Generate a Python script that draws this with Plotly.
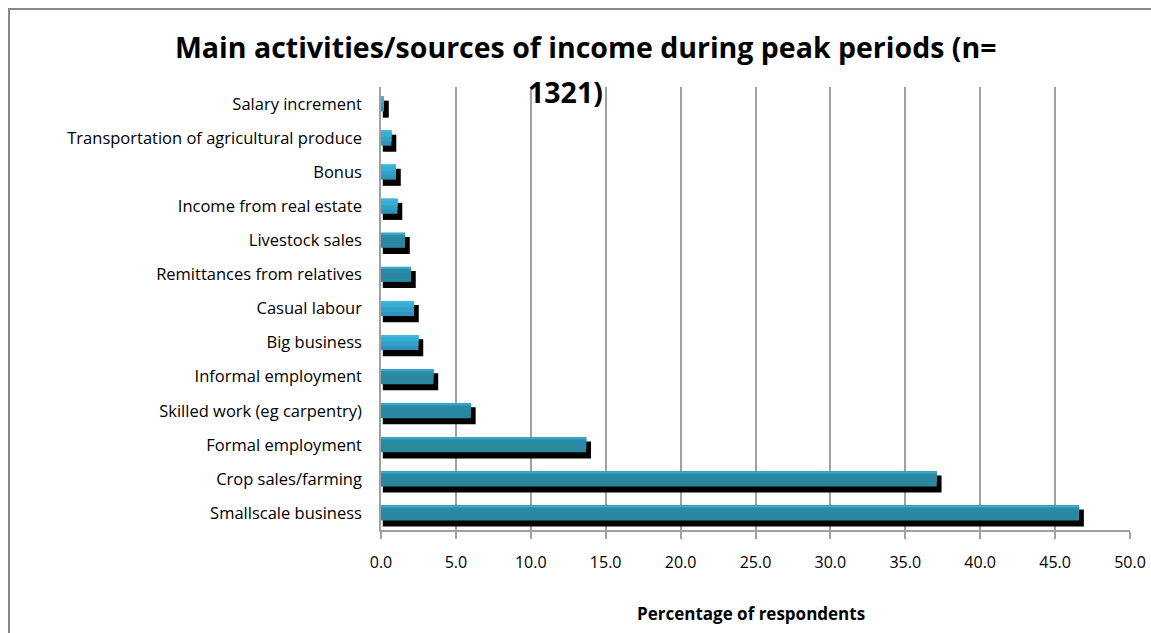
import plotly.graph_objects as go

# ---- data (top-to-bottom as shown) ----
categories = [
    "Salary increment",
    "Transportation of agricultural produce",
    "Bonus",
    "Income from real estate",
    "Livestock sales",
    "Remittances from relatives",
    "Casual labour",
    "Big business",
    "Informal employment",
    "Skilled work (eg carpentry)",
    "Formal employment",
    "Crop sales/farming",
    "Smallscale business",
]
values = [0.2, 0.7, 1.0, 1.1, 1.6, 2.0, 2.2, 2.5, 3.5, 6.0, 13.7, 37.1, 46.6]
x_ticks = [0, 5, 10, 15, 20, 25, 30, 35, 40, 45, 50]
x_tick_labels = ["0.0", "5.0", "10.0", "15.0", "20.0", "25.0", "30.0", "35.0", "40.0", "45.0", "50.0"]
title_line1 = "Main activities/sources of income during peak periods (n="
title_line2 = "1321)"
x_title = "Percentage of respondents"

# style: tone of each bar fill
bar_tone = ["light", "light", "light", "light", "dark", "dark", "light",
            "light", "dark", "dark", "dark", "dark", "dark"]

# ---- styling ----
W, H = 1151, 633
PLOT_L, PLOT_R, PLOT_T, PLOT_B = 381, 1130, 87, 530  # page pixel coords
ML, MR, MT, MB = PLOT_L, W - PLOT_R, PLOT_T, H - PLOT_B
PW, PH = W - ML - MR, H - MT - MB
FONT = "Open Sans"


def px_x(page_x):
    return (page_x - PLOT_L) / PW


def px_y(page_y):
    return (PLOT_B - page_y) / PH


band_colors = {
    "light": ["#2D95BB", "#32A1C7", "#37ADD3", "#3CB8DE"],
    "dark": ["#2A87A0", "#2A87A0", "#2A89A3", "#36ABCE"],
}
# nested bars from bottom edge upwards: (offset, width) in category units
bands = [(-0.22, 0.44), (-0.10, 0.32), (0.03, 0.19), (0.16, 0.06)]

fig = go.Figure()

# shadow
fig.add_trace(go.Bar(
    y=categories, x=[v + 0.2 for v in values], base=0.12,
    orientation="h", width=0.5, offset=-0.40,
    marker=dict(color="#000000", line=dict(width=0)),
    hoverinfo="skip", showlegend=False,
))
for i, (off, wd) in enumerate(bands):
    fig.add_trace(go.Bar(
        y=categories, x=values, orientation="h", width=wd, offset=off,
        marker=dict(color=[band_colors[t][i] for t in bar_tone], line=dict(width=0)),
        showlegend=False,
    ))

fig.update_layout(
    width=W, height=H,
    margin=dict(l=ML, r=MR, t=MT, b=MB, autoexpand=False),
    barmode="overlay",
    plot_bgcolor="white", paper_bgcolor="white",
    font=dict(family=FONT, size=16, color="#000000"),
    xaxis=dict(
        range=[0, 50], tickvals=x_ticks, ticktext=x_tick_labels,
        showgrid=True, gridcolor="#A0A0A0", gridwidth=1.5,
        showline=True, linecolor="#A0A0A0", linewidth=1.5,
        ticks="outside", ticklen=7, tickcolor="#A0A0A0", tickwidth=1.5,
        ticklabelstandoff=10, zeroline=False,
        tickfont=dict(family=FONT, size=16, color="#000000"),
    ),
    yaxis=dict(
        categoryorder="array", categoryarray=list(reversed(categories)),
        range=[-0.5, len(categories) - 0.5],
        showline=True, linecolor="#A0A0A0", linewidth=1.5,
        showgrid=False, ticks="", ticklabelstandoff=14,
        tickfont=dict(family=FONT, size=16.5, color="#000000"),
    ),
    annotations=[
        dict(text="<b>" + title_line1 + "</b>", xref="paper", yref="paper",
             x=px_x(585), y=px_y(47),
             showarrow=False, xanchor="center", yanchor="middle",
             font=dict(family=FONT, size=28.5, color="#000000")),
        dict(text="<b>" + title_line2 + "</b>", xref="paper", yref="paper",
             x=px_x(565), y=px_y(92),
             showarrow=False, xanchor="center", yanchor="middle",
             font=dict(family=FONT, size=28.5, color="#000000")),
        dict(text="<b>" + x_title + "</b>", xref="paper", yref="paper",
             x=px_x(751), y=px_y(613),
             showarrow=False, xanchor="center", yanchor="middle",
             font=dict(family=FONT, size=17, color="#000000")),
    ],
    shapes=[dict(type="rect", xref="paper", yref="paper",
                 x0=px_x(9), x1=px_x(1170),
                 y0=px_y(700), y1=px_y(9),
                 line=dict(color="#888888", width=2), layer="below")],
)

fig.write_html(
    "out.html",
    config={"displayModeBar": False},
    post_script="document.body.style.margin='0';document.body.style.overflow='hidden';",
)
